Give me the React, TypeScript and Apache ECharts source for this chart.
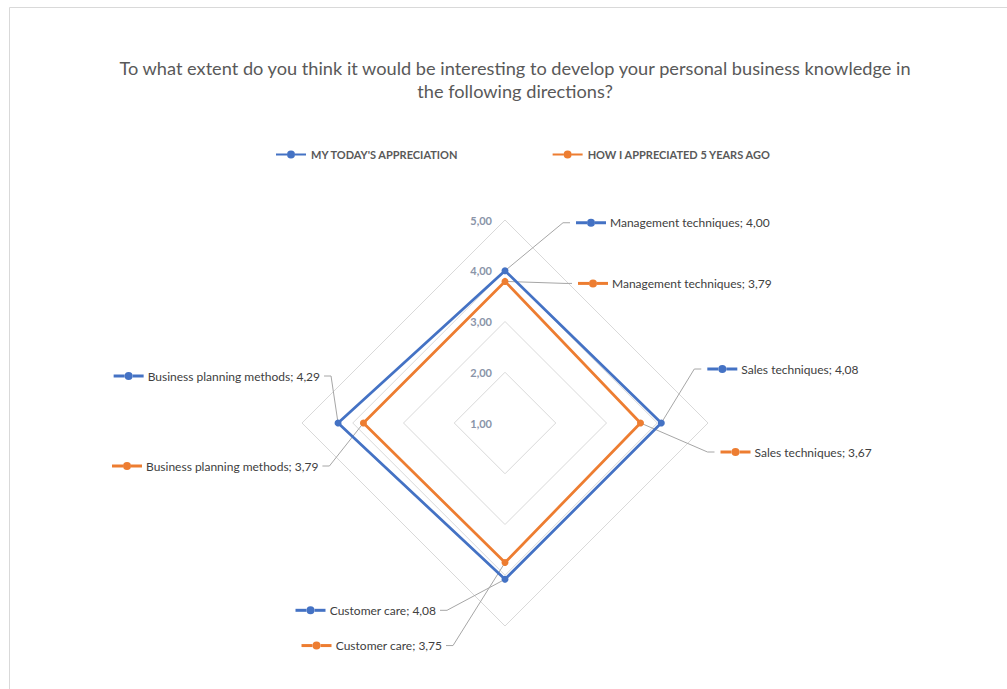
import React, { useEffect, useRef } from 'react';
import * as echarts from 'echarts';

const titleText =
  'To what extent do you think it would be interesting to develop your personal business knowledge in\nthe following directions?';
// indicators listed counter-clockwise starting at the top
const indicators = ['Management techniques', 'Business planning methods', 'Customer care', 'Sales techniques'];
const seriesNames = ["MY TODAY'S APPRECIATION", 'HOW I APPRECIATED 5 YEARS AGO'];
const todayValues = [4.0, 4.29, 4.08, 4.08];
const fiveYearsAgoValues = [3.79, 3.79, 3.75, 3.67];
const tickValues = [1, 2, 3, 4, 5];
const tickLabels = ['1,00', '2,00', '3,00', '4,00', '5,00'];
const colors = ['#4472C4', '#ED7D31'];

// callout placement (leader elbow offset from the point, side of label)
const calloutLayout = [
  [
    { dx: 58, dy: -48, side: 1 },
    { dx: -7, dy: -47, side: -1 },
    { dx: -58, dy: 31, side: -1 },
    { dx: 33, dy: -54, side: 1 },
  ],
  [
    { dx: 60, dy: 2, side: 1 },
    { dx: -34, dy: 43, side: -1 },
    { dx: -52, dy: 83, side: -1 },
    { dx: 67, dy: 29, side: 1 },
  ],
];

const fmt = (v: number) => v.toFixed(2).replace('.', ',');

const CENTER = [505, 423];
const RADIUS = 203;
const FONT = 'Lato, "Noto Sans", sans-serif';
const legendIcon =
  'path://M0,3H11V5H0Z M19,3H30V5H19Z M11,4A4,4 0 1 1 19,4A4,4 0 1 1 11,4Z';

export default function App() {
  const ref = useRef<HTMLDivElement>(null);

  useEffect(() => {
    const el = ref.current!;
    const chart = echarts.init(el, undefined, { renderer: 'svg' });
    const allValues = [todayValues, fiveYearsAgoValues];

    chart.setOption({
      animation: false,
      backgroundColor: '#ffffff',
      title: {
        text: titleText,
        left: 510,
        top: 51,
        textAlign: 'center',
        textStyle: {
          fontFamily: FONT,
          fontSize: 18.2,
          fontWeight: 'normal',
          color: '#595959',
          lineHeight: 23,
        },
      },
      legend: {
        left: 271,
        top: 144,
        itemWidth: 30,
        itemHeight: 8,
        itemGap: 94,
        itemStyle: { borderWidth: 0 },
        textStyle: { fontFamily: FONT, fontSize: 11, fontWeight: 'bold', color: '#595959' },
        data: seriesNames.map((n) => ({ name: n, icon: legendIcon })),
      },
      radar: {
        center: CENTER,
        radius: RADIUS,
        startAngle: 90,
        shape: 'polygon',
        splitNumber: 4,
        indicator: indicators.map((n) => ({ name: n, min: 1, max: 5 })),
        axisName: { show: false },
        axisLine: { show: false },
        axisTick: { show: false },
        axisLabel: { show: false },
        splitArea: { show: false },
        splitLine: { lineStyle: { color: '#d9d9d9', width: 1 } },
      },
      series: seriesNames.map((name, i) => ({
        type: 'radar',
        name,
        symbol: 'circle',
        symbolSize: 7,
        color: colors[i],
        lineStyle: { color: colors[i], width: 2.75 },
        itemStyle: { color: colors[i] },
        z: 2 + i,
        data: [{ name, value: allValues[i] }],
      })),
    });

    let toPoint = (v: number, idx: number): number[] => {
      const ang = Math.PI / 2 + (idx * 2 * Math.PI) / indicators.length;
      const r = ((v - 1) / 4) * RADIUS;
      return [CENTER[0] + r * Math.cos(ang), CENTER[1] - r * Math.sin(ang)];
    };
    try {
      const cs = (chart as any).getModel().getComponent('radar', 0).coordinateSystem;
      if (cs && cs.dataToPoint) toPoint = (v, idx) => cs.dataToPoint(v, idx);
    } catch (e) {
      /* fallback */
    }

    const graphics: any[] = [
      {
        type: 'rect',
        silent: true,
        z: -10,
        shape: { x: 9.5, y: 7.5, width: 1200, height: 1000 },
        style: { fill: 'none', stroke: '#d9d9d9', lineWidth: 1 },
      },
    ];

    tickValues.forEach((v, k) => {
      const p = toPoint(v, 0);
      graphics.push({
        type: 'text',
        silent: true,
        x: p[0] - 13,
        y: p[1],
        style: {
          text: tickLabels[k],
          align: 'right',
          verticalAlign: 'middle',
          font: `bold 11px ${FONT}`,
          fill: '#8a94a8',
        },
      });
    });

    allValues.forEach((vals, s) => {
      vals.forEach((v, idx) => {
        const p = toPoint(v, idx);
        const lay = calloutLayout[s][idx];
        const e = [p[0] + lay.dx, p[1] + lay.dy];
        const a = [e[0] + lay.side * 7, e[1]];
        graphics.push({
          type: 'polyline',
          silent: true,
          z: 1,
          shape: { points: [p, e, a] },
          style: { stroke: '#a6a6a6', lineWidth: 1, fill: 'none' },
        });
        graphics.push({
          type: 'text',
          silent: true,
          z: 5,
          x: lay.side > 0 ? a[0] + 6 : a[0] - 4,
          y: a[1],
          style: {
            text: `{l| }{d| }{l| }{t|${indicators[idx]}; ${fmt(v)}}`,
            align: lay.side > 0 ? 'left' : 'right',
            verticalAlign: 'middle',
            rich: {
              l: { width: 11, height: 3, backgroundColor: colors[s], fontSize: 1 },
              d: { width: 8, height: 8, borderRadius: 4, backgroundColor: colors[s], fontSize: 1 },
              t: {
                fontFamily: FONT,
                fontSize: 12,
                fill: '#404040',
                padding: [0, 0, 0, 4],
              },
            },
          },
        });
      });
    });

    chart.setOption({ graphic: graphics });
    return () => chart.dispose();
  }, []);

  return (
    <div
      ref={ref}
      style={{ position: 'absolute', left: 0, top: 0, width: 1007, height: 689 }}
    />
  );
}
